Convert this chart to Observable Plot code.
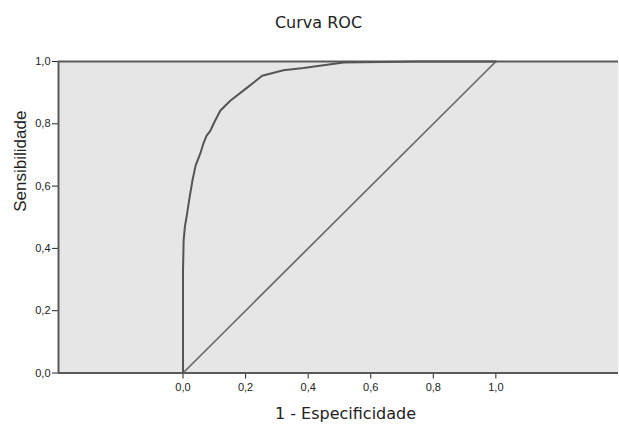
<!DOCTYPE html>
<html>
<head>
<meta charset="utf-8">
<script src="https://cdn.jsdelivr.net/npm/d3@7"></script>
<script src="https://cdn.jsdelivr.net/npm/@observablehq/plot@0.6"></script>
<style>
  html, body { margin: 0; padding: 0; background: #fff; }
</style>
</head>
<body>
<div id="chart"></div>
<script>
// ---- data ----
const title = "Curva ROC";
const xLabel = "1 - Especificidade";
const yLabel = "Sensibilidade";
const fpr = [0, 0, 0.002, 0.006, 0.013, 0.021, 0.030, 0.040, 0.055, 0.065, 0.075, 0.087, 0.100, 0.119, 0.151, 0.200, 0.253, 0.321, 0.385, 0.513, 0.75, 1];
const tpr = [0, 0.328, 0.425, 0.470, 0.511, 0.564, 0.617, 0.665, 0.704, 0.736, 0.761, 0.777, 0.805, 0.842, 0.874, 0.912, 0.954, 0.972, 0.979, 0.997, 1.0, 1.0];
const refX = [0, 1];
const refY = [0, 1];
const xTicks = [0, 0.2, 0.4, 0.6, 0.8, 1.0];
const yTicks = [0, 0.2, 0.4, 0.6, 0.8, 1.0];
const xDomain = [-0.398, 1.392];
const yDomain = [0, 1];

const roc = fpr.map((x, i) => ({x, y: tpr[i]}));
const diag = refX.map((x, i) => ({x, y: refY[i]}));
const fmt = d => d.toFixed(1).replace(".", ",");

const chart = Plot.plot({
  width: 619,
  height: 424,
  marginLeft: 58,
  marginRight: 1,
  marginTop: 61,
  marginBottom: 51.5,
  style: {fontFamily: "'Liberation Sans', Arial, sans-serif", fontSize: "11px", color: "#222", background: "#fff"},
  x: {domain: xDomain, ticks: xTicks, tickFormat: fmt, tickSize: 6, tickPadding: 4, label: null},
  y: {domain: yDomain, ticks: yTicks, tickFormat: fmt, tickSize: 6, tickPadding: 2, label: null},
  marks: [
    Plot.frame({fill: "#e6e6e6", stroke: null}),
    Plot.ruleY([yDomain[1]], {stroke: "#5a5a5a", strokeWidth: 2}),
    Plot.ruleY([yDomain[0]], {stroke: "#5a5a5a", strokeWidth: 2}),
    Plot.ruleX([xDomain[0]], {stroke: "#5a5a5a", strokeWidth: 2}),
    Plot.line(diag, {x: "x", y: "y", stroke: "#6a6a6a", strokeWidth: 1.7}),
    Plot.line(roc, {x: "x", y: "y", stroke: "#555", strokeWidth: 2}),
    Plot.text([title], {frameAnchor: "top", dx: -20, dy: -39, lineAnchor: "middle", fontSize: 16, fontFamily: "'DejaVu Sans', Verdana, sans-serif", fill: "#222"}),
    Plot.text([xLabel], {frameAnchor: "bottom", dx: 7, dy: 40.5, lineAnchor: "middle", fontSize: 16, fontFamily: "'DejaVu Sans', Verdana, sans-serif", fill: "#222"}),
    Plot.text([yLabel], {frameAnchor: "left", dx: -38, dy: -5.5, rotate: -90, lineAnchor: "middle", fontSize: 17, fontFamily: "'Liberation Sans', Arial, sans-serif", fill: "#222"})
  ]
});
document.getElementById("chart").appendChild(chart);
</script>
</body>
</html>
